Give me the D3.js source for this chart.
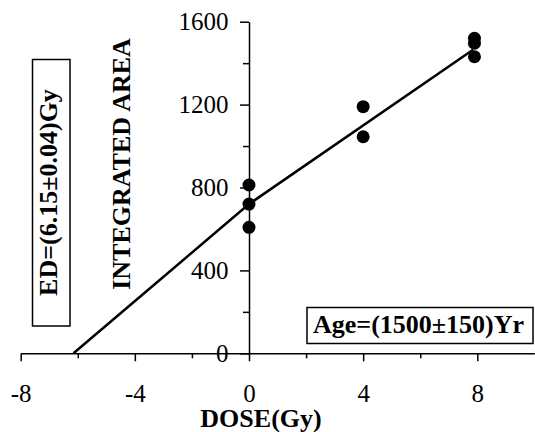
<!DOCTYPE html>
<html>
<head>
<meta charset="utf-8">
<script src="https://cdn.jsdelivr.net/npm/d3@7"></script>
<style>
  html, body { margin: 0; padding: 0; background: #fff; }
  svg { display: block; }
</style>
</head>
<body>
<svg id="chart" width="535" height="432"></svg>
<script>
// ---- data ----
const pointDose = [0, 0, 0, 4, 4, 7.9, 7.9, 7.9];
const pointArea = [812, 720, 608, 1190, 1045, 1520, 1496, 1431];
const lineDose = [-6.15, 0, 7.85];
const lineArea = [0, 720, 1465];
const xMajorTicks = [-8, -4, 0, 4, 8];
const xMinorTicks = [-6, -2, 2, 6];
const yMajorTicks = [0, 400, 800, 1200, 1600];
const yMinorTicks = [200, 600, 1000, 1400];
const xTitle = "DOSE(Gy)";
const yTitle = "INTEGRATED AREA";
const edLabel = "ED=(6.15\u00B10.04)Gy";
const ageLabel = "Age=(1500\u00B1150)Yr";

const svg = d3.select("#chart");
const serif = "'Liberation Serif', 'Times New Roman', serif";

const x = d3.scaleLinear().domain([-8, 10]).range([20.7, 534.4]);
const y = d3.scaleLinear().domain([0, 1600]).range([353.3, 21.7]);

// x axis
const gx = svg.append("g").attr("transform", `translate(0,${y(0)})`);
gx.call(d3.axisBottom(x).tickValues(xMajorTicks).tickSize(8).tickSizeOuter(0)
  .tickPadding(23).tickFormat(d => String(d)));
const gxm = svg.append("g").attr("transform", `translate(0,${y(0)})`);
gxm.call(d3.axisBottom(x).tickValues(xMinorTicks).tickSize(5).tickSizeOuter(0).tickFormat(""));
gxm.select(".domain").remove();

// y axis
const gy = svg.append("g").attr("transform", `translate(${x(0)},0)`);
gy.call(d3.axisLeft(y).tickValues(yMajorTicks).tickSize(9).tickSizeOuter(0)
  .tickPadding(11.5).tickFormat(d => String(d)));
const gym = svg.append("g").attr("transform", `translate(${x(0)},0)`);
gym.call(d3.axisLeft(y).tickValues(yMinorTicks).tickSize(6).tickSizeOuter(0).tickFormat(""));
gym.select(".domain").remove();

svg.selectAll(".domain, .tick line").attr("stroke", "#000").attr("stroke-width", 1.5);
svg.selectAll(".tick text").attr("font-family", serif).attr("font-size", 25).attr("fill", "#000");

// fitted line
const line = d3.line().x(d => x(d[0])).y(d => y(d[1]));
svg.append("path")
  .datum(lineDose.map((d, i) => [d, lineArea[i]]))
  .attr("d", line)
  .attr("fill", "none")
  .attr("stroke", "#000")
  .attr("stroke-width", 2.5);

// points
svg.append("g").selectAll("circle")
  .data(pointDose.map((d, i) => [d, pointArea[i]]))
  .join("circle")
  .attr("cx", d => x(d[0]))
  .attr("cy", d => y(d[1]))
  .attr("r", 6.5)
  .attr("fill", "#000");

// axis titles
svg.append("text")
  .attr("x", 261).attr("y", 427)
  .attr("text-anchor", "middle")
  .attr("font-family", serif).attr("font-weight", "bold").attr("font-size", 26)
  .text(xTitle);

svg.append("text")
  .attr("transform", "translate(130,164) rotate(-90)")
  .attr("text-anchor", "middle")
  .attr("font-family", serif).attr("font-weight", "bold").attr("font-size", 26)
  .text(yTitle);

// ED box
svg.append("rect")
  .attr("x", 32.5).attr("y", 59.5).attr("width", 37.5).attr("height", 266.5)
  .attr("fill", "#fff").attr("stroke", "#000").attr("stroke-width", 1.5);
svg.append("text")
  .attr("transform", "translate(56.5,192.5) rotate(-90)")
  .attr("text-anchor", "middle")
  .attr("font-family", serif).attr("font-weight", "bold").attr("font-size", 26)
  .text(edLabel);

// Age box
svg.append("rect")
  .attr("x", 307).attr("y", 307.5).attr("width", 226).attr("height", 36)
  .attr("fill", "#fff").attr("stroke", "#000").attr("stroke-width", 1.5);
svg.append("text")
  .attr("x", 313).attr("y", 333.3)
  .attr("font-family", serif).attr("font-weight", "bold").attr("font-size", 26)
  .text(ageLabel);
</script>
</body>
</html>
